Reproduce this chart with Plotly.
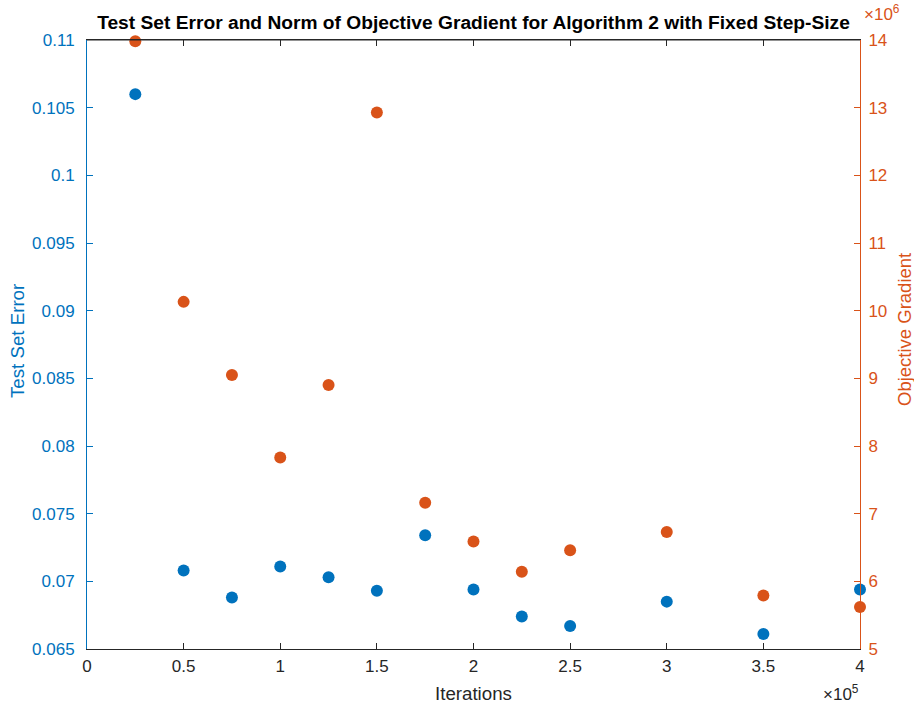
import plotly.graph_objects as go

# Data
iterations = [25000, 50000, 75000, 100000, 125000, 150000, 175000, 200000,
              225000, 250000, 300000, 350000, 400000]
test_error = [0.1060, 0.0708, 0.0688, 0.0711, 0.0703, 0.0693, 0.0734, 0.0694,
              0.0674, 0.0667, 0.0685, 0.0661, 0.0694]
obj_gradient = [13.98e6, 10.13e6, 9.05e6, 7.83e6, 8.90e6, 12.93e6, 7.16e6, 6.59e6,
                6.14e6, 6.46e6, 6.73e6, 5.79e6, 5.62e6]

x_tickvals = [0, 50000, 100000, 150000, 200000, 250000, 300000, 350000, 400000]
x_ticktext = ["0", "0.5", "1", "1.5", "2", "2.5", "3", "3.5", "4"]
y1_tickvals = [0.065, 0.07, 0.075, 0.08, 0.085, 0.09, 0.095, 0.1, 0.105, 0.11]
y1_ticktext = ["0.065", "0.07", "0.075", "0.08", "0.085", "0.09", "0.095", "0.1", "0.105", "0.11"]
y2_tickvals = [5e6, 6e6, 7e6, 8e6, 9e6, 10e6, 11e6, 12e6, 13e6, 14e6]
y2_ticktext = ["5", "6", "7", "8", "9", "10", "11", "12", "13", "14"]

BLUE = "#0072BD"
ORANGE = "#D95319"
DARK = "#262626"
FONT = "Liberation Sans, Arial, Helvetica, sans-serif"

W, H = 914, 704
L, R, T, B = 87, 54, 40, 55
PW, PH = W - L - R, H - T - B

def px(xp):
    return (xp - L) / PW

def py(yp):
    return 1 - (yp - T) / PH

fig = go.Figure()
fig.add_trace(go.Scatter(x=iterations, y=test_error, mode="markers",
                         marker=dict(color=BLUE, size=12), yaxis="y", showlegend=False,
                         cliponaxis=False))
fig.add_trace(go.Scatter(x=iterations, y=obj_gradient, mode="markers",
                         marker=dict(color=ORANGE, size=12), yaxis="y2", showlegend=False,
                         cliponaxis=False))

fig.update_layout(
    width=W, height=H,
    margin=dict(l=L, r=R, t=T, b=B, autoexpand=False),
    paper_bgcolor="white", plot_bgcolor="white",
    font=dict(family=FONT, size=17, color=DARK),
    title=dict(text="<b>Test Set Error and Norm of Objective Gradient for Algorithm 2 with Fixed Step-Size</b>",
               x=(L + W - R) / 2 / W, xanchor="center", y=1 - 22 / H, yanchor="middle",
               font=dict(size=19.2, color="black", family=FONT)),
    xaxis=dict(range=[0, 400000], tickvals=x_tickvals, ticktext=x_ticktext,
               showgrid=False, zeroline=False, showline=True, linecolor=DARK, linewidth=1,
               mirror="ticks", ticks="inside", ticklen=6, tickcolor=DARK,
               tickfont=dict(color=DARK, size=17), automargin=False, ticklabelstandoff=2),
    yaxis=dict(range=[0.065, 0.11], tickvals=y1_tickvals, ticktext=y1_ticktext,
               showgrid=False, zeroline=False, showline=True, linecolor=BLUE, linewidth=1,
               ticks="inside", ticklen=6, tickcolor=BLUE,
               tickfont=dict(color=BLUE, size=17), automargin=False, ticklabelstandoff=8),
    yaxis2=dict(range=[5e6, 14e6], tickvals=y2_tickvals, ticktext=y2_ticktext,
                overlaying="y", side="right",
                showgrid=False, zeroline=False, showline=True, linecolor=ORANGE, linewidth=1,
                ticks="inside", ticklen=6, tickcolor=ORANGE,
                tickfont=dict(color=ORANGE, size=17), automargin=False, ticklabelstandoff=4),
    annotations=[
        dict(text="Iterations", xref="paper", yref="paper", x=px(473), y=py(693),
             xanchor="center", yanchor="middle", showarrow=False,
             font=dict(size=18.7, color=DARK)),
        dict(text="Test Set Error", xref="paper", yref="paper", x=px(18), y=py(341),
             xanchor="center", yanchor="middle", textangle=-90, showarrow=False,
             font=dict(size=18.7, color=BLUE)),
        dict(text="Objective Gradient", xref="paper", yref="paper", x=px(904), y=py(330),
             xanchor="center", yanchor="middle", textangle=-90, showarrow=False,
             font=dict(size=18.5, color=ORANGE)),
        dict(text="×10<sup>5</sup>", xref="paper", yref="paper", x=px(861), y=py(693),
             xanchor="right", yanchor="middle", showarrow=False,
             font=dict(size=17, color=DARK)),
        dict(text="×10<sup>6</sup>", xref="paper", yref="paper", x=px(862), y=py(13),
             xanchor="left", yanchor="middle", showarrow=False,
             font=dict(size=17, color=ORANGE)),
    ],
)
fig.add_shape(type="line", xref="paper", yref="paper", x0=0, x1=1, y0=1, y1=1,
              line=dict(color=DARK, width=1))

fig.write_html("out.html", config={"displayModeBar": False},
               post_script="document.body.style.margin='0';document.body.style.overflow='hidden';")
